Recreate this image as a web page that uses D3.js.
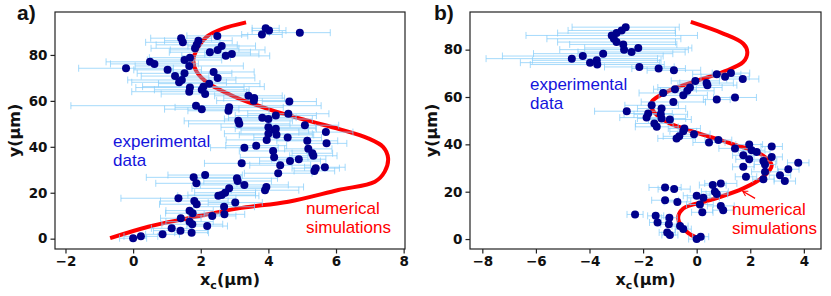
<!DOCTYPE html>
<html>
<head>
<meta charset="utf-8">
<script src="https://cdn.jsdelivr.net/npm/d3@7"></script>
<style>
  body { margin: 0; background: #fff; }
  svg { display: block; }
</style>
</head>
<body>
<div id="chart"></div>
<script>
// ---- data: panel a (experimental points, x error, simulation curve) ----
const aX = [1.42, 1.47, 1.93, 1.88, 1.83, 2.49, 2.62, 2.50, 2.27, 2.92, 2.74, 3.92, 4.02, 3.81, 4.93,
  1.68, 1.52, 0.50, 0.63, -0.21, 1.66, 1.02, 1.52, 1.24, 1.44, 1.36, 2.38, 2.50, 2.25, 2.08,
  2.03, 2.13, 1.68, 1.66, 3.41, 3.58, 3.57, 4.62, 1.86, 2.03, 2.84, 2.82, 4.59, 4.22, 3.82,
  4.00, 3.11, 3.14, 4.00, 4.22, 5.08, 5.70, 4.19, 4.00, 4.24, 4.57, 3.95, 5.15, 5.72, 3.29,
  3.64, 4.14, 5.18, 5.30, 5.33, 4.17, 4.90, 4.64, 3.21, 4.35, 5.67, 5.40, 5.36, 4.29, 2.13,
  1.79, 3.07, 3.09, 1.87, 3.29, 3.94, 3.90, 2.84, 2.72, 2.62, 2.52, 1.34, 1.81, 1.88, 3.02,
  2.69, 2.70, 1.67, 1.76, 2.34, 1.41, 1.67, 1.75, 2.19, 1.14, 1.40, 1.73, 0.87, 0.23, 0.00];
const aY = [87.3, 85.5, 86.2, 84.4, 82.9, 88.3, 83.9, 82.2, 81.2, 80.4, 79.6, 91.6, 90.6, 88.9, 89.7,
  78.8, 77.8, 77.0, 76.1, 74.2, 75.2, 73.5, 72.0, 70.8, 69.1, 68.1, 72.6, 70.0, 67.5, 66.2,
  64.8, 63.0, 65.8, 64.0, 62.2, 61.2, 60.1, 59.7, 57.9, 56.4, 57.2, 55.7, 54.4, 53.6, 52.7,
  52.1, 51.3, 50.0, 48.5, 47.9, 49.4, 46.4, 47.3, 45.7, 45.2, 44.0, 43.0, 42.6, 41.5, 39.6,
  40.5, 38.2, 39.1, 37.2, 36.1, 35.4, 34.6, 33.8, 32.8, 32.0, 31.1, 30.7, 29.5, 28.5, 27.7,
  26.7, 26.3, 25.1, 24.1, 23.4, 22.5, 21.1, 21.9, 20.0, 19.0, 18.7, 17.6, 16.4, 15.0, 15.7,
  13.9, 10.6, 12.2, 11.1, 9.9, 8.9, 7.4, 6.3, 5.5, 4.5, 3.5, 2.6, 1.9, 1.0, 0.2];
const aErr = [0.9, 1.1, 1.0, 1.2, 1.3, 0.9, 1.0, 1.4, 1.2, 0.8, 1.3, 0.4, 0.5, 0.6, 0.9,
  1.2, 1.1, 1.3, 1.3, 1.4, 1.6, 1.0, 1.4, 1.0, 1.6, 1.4, 1.2, 1.1, 1.5, 1.8,
  1.4, 1.3, 1.6, 1.7, 1.0, 0.9, 1.1, 0.8, 3.7, 1.1, 1.6, 1.2, 1.2, 1.2, 1.0,
  1.3, 1.6, 1.5, 1.4, 1.2, 1.0, 0.8, 1.0, 1.3, 1.1, 1.0, 1.2, 0.9, 0.6, 1.0,
  0.9, 1.0, 0.7, 0.6, 0.7, 1.0, 0.8, 0.9, 1.1, 0.9, 0.6, 0.7, 0.6, 1.0, 1.1,
  1.4, 1.2, 1.0, 1.2, 1.3, 1.1, 1.0, 1.1, 0.9, 1.0, 1.2, 1.7, 1.0, 1.1, 0.8,
  0.9, 0.6, 0.7, 0.8, 0.7, 0.6, 0.7, 0.9, 0.6, 0.6, 0.8, 0.5, 0.5, 0.5, 0.4];
const aCurveX = [-0.68, 0.45, 1.63, 3.11, 4.59, 6.07, 7.15, 7.44, 7.54, 7.39, 6.95, 6.12, 5.08, 4.00,
  3.00, 2.22, 1.88, 1.78, 1.93, 2.18, 2.62, 3.34];
const aCurveY = [0.2, 5.2, 8.9, 13.2, 16.1, 21.2, 24.8, 29.2, 35.0, 40.0, 43.7, 47.6, 51.7, 56.4,
  61.8, 67.7, 72.7, 77.8, 83.6, 88.0, 91.3, 94.2];

// ---- data: panel b ----
const bX = [-2.65, -2.80, -2.99, -3.17, -3.09, -2.99, -2.74, -2.71, -2.43, -2.18, -3.49, -4.25, -4.66, -3.98, -3.73,
  -3.71, -2.14, -1.42, -0.85, 0.75, 1.28, 1.06, 1.72, 0.37, 0.40, -0.05, -0.25, -0.35, -0.50, -0.81,
  -1.25, -0.87, 0.75, 1.43, -1.68, -1.31, -2.61, -1.34, -1.81, -1.87, -1.31, -1.00, -1.58, -1.49, -0.46,
  -0.50, -0.10, -0.75, -0.65, 0.46, 0.81, 1.43, 1.96, 2.80, 2.05, 2.24, 1.74, 2.80, 1.96, 2.49,
  2.55, 3.79, 3.42, 1.74, 1.84, 2.55, 3.11, 2.49, 3.29, -1.18, -0.84, 0.60, 0.90, 0.68, 0.75,
  0.00, 0.25, -1.18, -0.72, 0.12, 0.90, 0.99, 0.21, -2.30, -1.53, -1.02, -1.46, -1.04, -0.62, -0.50,
  -1.10, -1.00, 0.00, 0.15];
const bY = [89.5, 88.1, 87.0, 86.0, 84.6, 83.2, 82.2, 80.0, 79.0, 80.7, 78.3, 77.3, 76.2, 74.5, 75.5,
  73.7, 72.7, 72.0, 71.3, 69.6, 70.1, 68.5, 67.6, 65.9, 65.0, 66.8, 64.0, 62.6, 60.7, 63.3,
  61.7, 57.9, 58.9, 59.8, 56.5, 55.1, 54.0, 52.7, 53.0, 51.3, 50.9, 50.5, 48.8, 47.4, 46.7,
  45.5, 44.3, 42.5, 43.4, 40.8, 41.8, 38.3, 39.9, 39.1, 37.5, 36.8, 35.4, 34.7, 33.7, 33.0,
  31.5, 32.2, 29.5, 30.5, 26.3, 28.4, 27.0, 25.3, 24.5, 21.8, 21.1, 22.8, 23.5, 20.0, 19.0,
  18.3, 17.4, 16.4, 15.7, 14.6, 14.0, 12.2, 11.3, 10.4, 9.8, 9.0, 7.0, 6.3, 5.5, 4.2,
  2.8, 1.7, 0.0, 1.0];
const bErr = [2.0, 2.0, 2.2, 3.2, 2.5, 2.2, 2.0, 2.4, 2.0, 2.0, 2.6, 3.0, 3.2, 2.6, 2.4,
  2.5, 1.3, 1.0, 1.0, 0.9, 0.7, 0.9, 0.6, 1.0, 1.1, 0.9, 1.2, 1.0, 0.9, 0.8,
  0.9, 1.2, 0.5, 0.8, 1.0, 0.9, 1.2, 1.0, 0.9, 1.0, 0.9, 0.8, 0.7, 0.8, 0.6,
  0.5, 0.6, 0.7, 0.6, 0.6, 0.5, 0.6, 0.5, 0.4, 0.5, 0.5, 0.4, 0.4, 0.5, 0.5,
  0.4, 0.4, 0.4, 0.4, 0.4, 0.5, 0.4, 0.4, 0.4, 0.6, 0.6, 0.5, 0.6, 0.5, 0.4,
  0.5, 0.6, 0.5, 0.5, 0.5, 0.5, 0.4, 0.4, 0.3, 0.3, 0.3, 0.3, 0.3, 0.3, 0.3,
  0.3, 0.3, 0.3, 0.3];
const bCurveX = [0.06, -0.37, -0.69, -0.50, 0.50, 1.74, 2.49, 2.80, 2.36, 1.49, 0.50, -0.50, -1.12,
  -1.64, -1.68, -1.00, 0.00, 0.99, 1.74, 1.89, 1.74, 0.99, -0.22];
const bCurveY = [0.3, 3.1, 8.7, 12.9, 16.4, 21.4, 26.3, 31.2, 36.1, 39.6, 43.1, 46.7, 49.5,
  54.4, 57.9, 62.8, 66.8, 70.6, 74.8, 79.0, 82.5, 86.8, 91.7];

// tick labels
const aXTicks = [-2, 0, 2, 4, 6, 8];
const bXTicks = [-8, -6, -4, -2, 0, 2, 4];
const yTicks = [0, 20, 40, 60, 80];

// ---- layout ----
const width = 831;
const height = 296;
const errColor = "#87cefa";
const dotColor = "#00008b";
const red = "#ff0000";
const textBlue = "#1414dc";

const svg = d3.select("#chart")
  .append("svg")
    .attr("width", width)
    .attr("height", height);

const panels = [
  {
    tag: "a)", box: {left: 55, right: 405, top: 12, bottom: 249},
    xDomain: [-2.31, 8.04], yDomain: [-4.5, 98.7], xTicks: aXTicks,
    xs: aX, ys: aY, errs: aErr, cx: aCurveX, cy: aCurveY,
    tagPos: [17, 20], yLabelX: 20,
    exp: [113, 147], sim: [306, 214], arrow: null
  },
  {
    tag: "b)", box: {left: 470, right: 821, top: 12, bottom: 249},
    xDomain: [-8.46, 4.64], yDomain: [-4.2, 95.9], xTicks: bXTicks,
    xs: bX, ys: bY, errs: bErr, cx: bCurveX, cy: bCurveY,
    tagPos: [434, 20], yLabelX: 437,
    exp: [530, 90], sim: [732, 215], arrow: [[2.18, 17.2], [1.72, 20.2]]
  }
];

svg.append("defs").append("marker")
    .attr("id", "head")
    .attr("viewBox", "-8 -5 10 10")
    .attr("markerWidth", 8)
    .attr("markerHeight", 8)
    .attr("orient", "auto")
    .attr("markerUnits", "userSpaceOnUse")
  .append("path")
    .attr("d", "M-6,-3.5 L0,0 L-6,3.5")
    .attr("fill", "none")
    .attr("stroke", red)
    .attr("stroke-width", 1.3);

panels.forEach(p => drawPanel(p));

function drawPanel(p) {
  const b = p.box;
  const x = d3.scaleLinear().domain(p.xDomain).range([b.left, b.right]);
  const y = d3.scaleLinear().domain(p.yDomain).range([b.bottom, b.top]);
  const g = svg.append("g");

  // simulation curve
  const pts = p.cx.map((v, i) => [v, p.cy[i]]);
  g.append("path")
    .datum(pts)
    .attr("fill", "none")
    .attr("stroke", red)
    .attr("stroke-width", 4)
    .attr("stroke-linecap", "butt")
    .attr("d", d3.line().x(d => x(d[0])).y(d => y(d[1])).curve(d3.curveCatmullRom.alpha(0.5)));

  // error bars
  const data = p.xs.map((v, i) => ({x: v, y: p.ys[i], e: p.errs[i]}));
  const eb = g.append("g")
    .attr("stroke", errColor)
    .attr("stroke-width", 1)
    .attr("stroke-opacity", 0.75);
  eb.selectAll("line.bar").data(data).join("line")
    .attr("class", "bar")
    .attr("x1", d => x(d.x - d.e)).attr("x2", d => x(d.x + d.e))
    .attr("y1", d => y(d.y)).attr("y2", d => y(d.y));
  eb.selectAll("line.capl").data(data).join("line")
    .attr("class", "capl")
    .attr("x1", d => x(d.x - d.e)).attr("x2", d => x(d.x - d.e))
    .attr("y1", d => y(d.y) - 3.5).attr("y2", d => y(d.y) + 3.5);
  eb.selectAll("line.capr").data(data).join("line")
    .attr("class", "capr")
    .attr("x1", d => x(d.x + d.e)).attr("x2", d => x(d.x + d.e))
    .attr("y1", d => y(d.y) - 3.5).attr("y2", d => y(d.y) + 3.5);

  // points
  g.append("g").selectAll("circle").data(data).join("circle")
    .attr("cx", d => x(d.x))
    .attr("cy", d => y(d.y))
    .attr("r", 4)
    .attr("fill", dotColor);

  // frame
  g.append("rect")
    .attr("x", b.left).attr("y", b.top)
    .attr("width", b.right - b.left).attr("height", b.bottom - b.top)
    .attr("fill", "none").attr("stroke", "#222").attr("stroke-width", 1.2);

  // axes
  const fmt = d => d < 0 ? "\u2212" + Math.abs(d) : String(d);
  const xa = g.append("g")
    .attr("transform", `translate(0, ${b.bottom})`)
    .call(d3.axisBottom(x).tickValues(p.xTicks).tickFormat(fmt).tickSize(4.5).tickPadding(3));
  const ya = g.append("g")
    .attr("transform", `translate(${b.left}, 0)`)
    .call(d3.axisLeft(y).tickValues(yTicks).tickFormat(fmt).tickSize(4.5).tickPadding(3));
  [xa, ya].forEach(a => {
    a.select(".domain").remove();
    a.selectAll("line").attr("stroke", "#222").attr("stroke-width", 1.2);
    a.selectAll("text")
      .attr("fill", "#111")
      .attr("font-family", "DejaVu Sans")
      .attr("font-weight", "bold")
      .attr("font-size", 13.5);
  });

  // axis labels
  const xl = g.append("text")
    .attr("x", (b.left + b.right) / 2)
    .attr("y", 285)
    .attr("text-anchor", "middle")
    .attr("font-family", "DejaVu Sans")
    .attr("font-weight", "bold")
    .attr("font-size", 16)
    .attr("fill", "#111");
  xl.append("tspan").text("x");
  xl.append("tspan").attr("font-size", 11).attr("dy", 3.5).text("c");
  xl.append("tspan").attr("dy", -3.5).text("(\u03bcm)");

  g.append("text")
    .attr("transform", `translate(${p.yLabelX}, ${(b.top + b.bottom) / 2}) rotate(-90)`)
    .attr("text-anchor", "middle")
    .attr("font-family", "DejaVu Sans")
    .attr("font-weight", "bold")
    .attr("font-size", 16)
    .attr("fill", "#111")
    .text("y(\u03bcm)");

  // panel tag
  g.append("text")
    .attr("x", p.tagPos[0]).attr("y", p.tagPos[1])
    .attr("font-family", "Liberation Sans")
    .attr("font-weight", "bold")
    .attr("font-size", 21)
    .attr("fill", "#111")
    .text(p.tag);

  // annotations
  const exp = g.append("text")
    .attr("font-family", "Liberation Sans")
    .attr("font-size", 17)
    .attr("fill", textBlue);
  exp.append("tspan").attr("x", p.exp[0]).attr("y", p.exp[1]).text("experimental");
  exp.append("tspan").attr("x", p.exp[0]).attr("y", p.exp[1] + 19).text("data");

  const sim = g.append("text")
    .attr("font-family", "Liberation Sans")
    .attr("font-size", 17)
    .attr("fill", red);
  sim.append("tspan").attr("x", p.sim[0]).attr("y", p.sim[1]).text("numerical");
  sim.append("tspan").attr("x", p.sim[0]).attr("y", p.sim[1] + 19).text("simulations");

  if (p.arrow) {
    g.append("line")
      .attr("x1", x(p.arrow[0][0])).attr("y1", y(p.arrow[0][1]))
      .attr("x2", x(p.arrow[1][0])).attr("y2", y(p.arrow[1][1]))
      .attr("stroke", red)
      .attr("stroke-width", 1.3)
      .attr("marker-end", "url(#head)");
  }
}
</script>
</body>
</html>
